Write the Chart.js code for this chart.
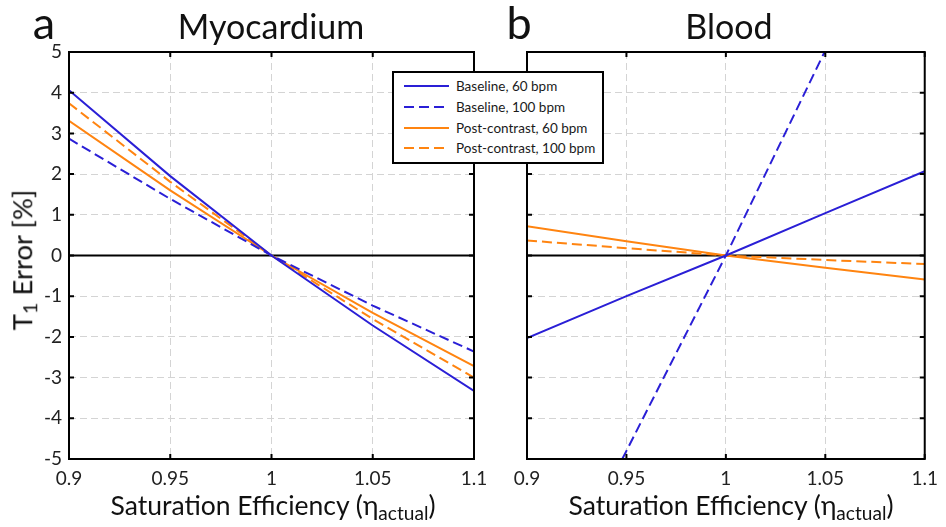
<!DOCTYPE html>
<html>
<head>
<meta charset="utf-8">
<script src="https://cdn.jsdelivr.net/npm/chart.js@4.4.0/dist/chart.umd.min.js"></script>
<style>
  body { margin: 0; background: #fff; }
  #wrap { position: relative; width: 946px; height: 527px; overflow: hidden; font-family: Lato, sans-serif; color: #111; }
  canvas { position: absolute; left: 0; top: 0; }
  .txt { position: absolute; white-space: nowrap; transform: translate(-50%, -50%); line-height: 1; }
  .panel { font-size: 45px; }
  .ttl { font-size: 34px; }
  .xt { font-size: 26.5px; }
  .yt { font-size: 27.5px; transform: translate(-50%, -50%) rotate(-90deg); }
  sub { font-size: 0.72em; vertical-align: -0.25em; line-height: 0; }
  #legend { position: absolute; left: 392px; top: 71px; width: 208px; height: 86px; border: 2px solid #000; background: #fff; padding-top: 3px; box-sizing: content-box; }
  .row { height: 20.7px; display: flex; align-items: center; font-size: 13.5px; color: #1a1a1a; }
  .row svg { margin-left: 10px; margin-right: 7px; }
</style>
</head>
<body>
<div id="wrap">
  <canvas id="myo" width="946" height="527"></canvas>
  <canvas id="blood" width="946" height="527"></canvas>
  <div class="txt panel" style="left:44px; top:22px;">a</div>
  <div class="txt ttl" style="left:271px; top:26px;">Myocardium</div>
  <div class="txt panel" style="left:519px; top:22px;">b</div>
  <div class="txt ttl" style="left:729px; top:26px;">Blood</div>
  <div class="txt xt" style="left:273px; top:505px;">Saturation Efficiency (η<sub>actual</sub>)</div>
  <div class="txt xt" style="left:731px; top:505px;">Saturation Efficiency (η<sub>actual</sub>)</div>
  <div class="txt yt" style="left:22px; top:260px;">T<sub>1</sub> Error [%]</div>
  <div id="legend"></div>
</div>
<script>
// x values (saturation efficiency) and tick labels
const etaValues = [0.9, 0.95, 1.0, 1.05, 1.1];
const xTickLabels = [0.9, 0.95, 1, 1.05, 1.1];
const yTickLabels = [-5, -4, -3, -2, -1, 0, 1, 2, 3, 4, 5];

const seriesNames = ["Baseline, 60 bpm", "Baseline, 100 bpm", "Post-contrast, 60 bpm", "Post-contrast, 100 bpm"];
const seriesColors = ["#2a1fd6", "#2a1fd6", "#ff8410", "#ff8410"];
const seriesDash = [[], [10, 5], [], [10, 5]];

// Myocardium T1 error [%]
const myoBaseline60 = [4.06, 1.95, 0, -1.72, -3.33];
const myoBaseline100 = [2.87, 1.39, 0, -1.23, -2.36];
const myoPost60 = [3.31, 1.60, 0, -1.41, -2.72];
const myoPost100 = [3.74, 1.81, 0, -1.56, -3.00];

// Blood T1 error [%]
const bloodBaseline60 = [-2.03, -1.00, 0, 1.04, 2.07];
const bloodBaseline100 = [-9.6, -4.8, 0, 5.04, 10.1];
const bloodPost60 = [0.72, 0.35, 0, -0.30, -0.59];
const bloodPost100 = [0.37, 0.18, 0, -0.11, -0.21];

const tickFont = { family: "Lato, sans-serif", size: 19 };

// zero line, box and inward ticks like the original figure
const framePlugin = {
  id: "frame",
  beforeDatasetsDraw(chart) {
    const { ctx, chartArea: a, scales } = chart;
    const y0 = scales.y.getPixelForValue(0);
    ctx.save();
    ctx.strokeStyle = "#000";
    ctx.lineWidth = 2;
    ctx.beginPath();
    ctx.moveTo(a.left, y0);
    ctx.lineTo(a.right, y0);
    ctx.stroke();
    ctx.restore();
  },
  afterDatasetsDraw(chart) {
    const { ctx, chartArea: a, scales } = chart;
    const len = 5;
    ctx.save();
    ctx.strokeStyle = "#000";
    ctx.lineWidth = 2;
    ctx.beginPath();
    xTickLabels.forEach(v => {
      const x = scales.x.getPixelForValue(v);
      ctx.moveTo(x, a.bottom); ctx.lineTo(x, a.bottom - len);
      ctx.moveTo(x, a.top); ctx.lineTo(x, a.top + len);
    });
    yTickLabels.forEach(v => {
      const y = scales.y.getPixelForValue(v);
      ctx.moveTo(a.left, y); ctx.lineTo(a.left + len, y);
      ctx.moveTo(a.right, y); ctx.lineTo(a.right - len, y);
    });
    ctx.stroke();
    ctx.strokeRect(a.left, a.top, a.right - a.left, a.bottom - a.top);
    ctx.restore();
  }
};

function makeChart(id, series, yWidth, padRight, showY) {
  return new Chart(document.getElementById(id), {
    type: "line",
    data: {
      datasets: series.map((vals, i) => ({
        label: seriesNames[i],
        data: etaValues.map((x, j) => ({ x: x, y: vals[j] })),
        borderColor: seriesColors[i],
        borderDash: seriesDash[i],
        borderWidth: 2,
        pointRadius: 0,
        tension: 0,
        fill: false
      }))
    },
    options: {
      responsive: false,
      animation: false,
      devicePixelRatio: 1,
      layout: { padding: { top: 52, right: padRight, left: 0, bottom: 0 } },
      plugins: { legend: { display: false }, tooltip: { enabled: false } },
      scales: {
        x: {
          type: "linear", min: 0.9, max: 1.1,
          afterBuildTicks: s => { s.ticks = xTickLabels.map(v => ({ value: v })); },
          afterFit: s => { s.height = 68; },
          ticks: { font: tickFont, color: "#222", padding: 8, maxRotation: 0, autoSkip: false,
                   callback: v => String(+v.toFixed(2)) },
          grid: { color: "#d4d4d4", lineWidth: 1, drawTicks: false },
          border: { display: false, dash: [7, 4] }
        },
        y: {
          type: "linear", min: -5, max: 5,
          afterBuildTicks: s => { s.ticks = yTickLabels.map(v => ({ value: v })); },
          afterFit: s => { s.width = yWidth; },
          ticks: { display: showY, font: tickFont, color: "#222", padding: 7 },
          grid: { color: "#d4d4d4", lineWidth: 1, drawTicks: false },
          border: { display: false, dash: [7, 4] }
        }
      }
    },
    plugins: [framePlugin]
  });
}

makeChart("myo", [myoBaseline60, myoBaseline100, myoPost60, myoPost100], 69, 946 - 474, true);
makeChart("blood", [bloodBaseline60, bloodBaseline100, bloodPost60, bloodPost100], 527, 946 - 932, false);

// legend
const legend = document.getElementById("legend");
seriesNames.forEach((name, i) => {
  const row = document.createElement("div");
  row.className = "row";
  row.innerHTML = `<svg width="45" height="4"><line x1="0" y1="2" x2="45" y2="2" stroke="${seriesColors[i]}" stroke-width="2" stroke-dasharray="${seriesDash[i].join(",") || "none"}"/></svg><span>${name}</span>`;
  legend.appendChild(row);
});
</script>
</body>
</html>
